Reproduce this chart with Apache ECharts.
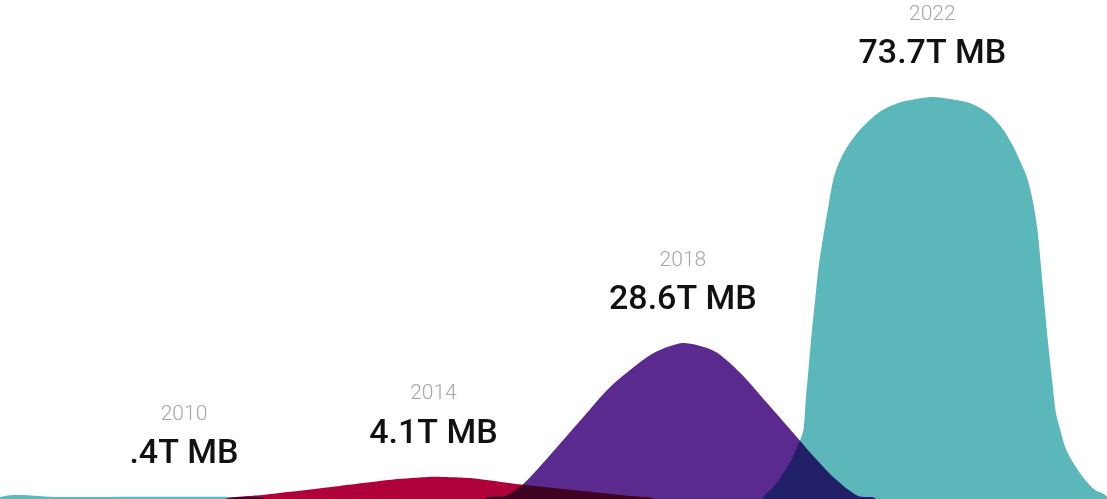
<!DOCTYPE html>
<html lang="en">
<head>
    <meta charset="UTF-8">
    <title>Data growth</title>
    <script src="https://cdn.jsdelivr.net/npm/echarts@6/dist/echarts.min.js"></script>
    <style>
        html, body { margin: 0; padding: 0; background: #fff; }
    </style>
</head>
<body>
    <div id="main" style="width:1107px;height:499px"></div>
    <script>
        // peaks: year -> volume (trillion MB)
        var years = [2010, 2014, 2018, 2022];
        var volumes = [0.4, 4.1, 28.6, 73.7];
        var volumeLabels = ['.4T MB', '4.1T MB', '28.6T MB', '73.7T MB'];

        // outline of each hill: [year, T MB]
        var hill2010 = [[2007.05, 0.3], [2008, 0.35], [2010, 0.4], [2010.9, 0.35], [2011.3, 0]];
        var hill2014 = [[2010.66, 0], [2011.22, 0.7], [2012.5, 2.4], [2013.46, 3.7], [2014, 4.1],
            [2014.59, 3.85], [2015.44, 2.6], [2016.35, 1.5], [2017.15, 0.55], [2017.55, 0]];
        var hill2018 = [[2014.83, 0], [2015.15, 0.55], [2015.36, 2.0], [2015.55, 4.0], [2015.98, 9.5],
            [2016.4, 15.0], [2016.83, 20.5], [2017.36, 25.5], [2017.63, 27.3], [2018, 28.6],
            [2018.32, 27.9], [2018.55, 26.8], [2018.92, 23.1], [2019.35, 17.6], [2019.77, 12.1],
            [2020.12, 7.5], [2020.45, 3.6], [2020.8, 0.6], [2021.1, 0]];
        var hill2022 = [[2019.28, 0], [2019.48, 2.6], [2019.72, 6.8], [2019.83, 9.5], [2019.93, 12.5],
            [2019.97, 18.2], [2020.02, 24.6], [2020.07, 31.0], [2020.12, 36.5], [2020.18, 42.9],
            [2020.26, 48.8], [2020.33, 53.5], [2020.41, 58.5], [2020.5, 61.6], [2020.63, 64.5],
            [2020.84, 67.7], [2021.13, 70.8], [2021.45, 72.6], [2021.72, 73.3], [2022, 73.7],
            [2022.3, 73.3], [2022.6, 72.6], [2022.9, 70.7], [2023.12, 68.0], [2023.29, 64.8],
            [2023.42, 61.6], [2023.53, 58.5], [2023.63, 53.5], [2023.69, 48.8], [2023.74, 42.9],
            [2023.79, 36.5], [2023.85, 29.2], [2023.92, 21.8], [2023.98, 15.8], [2024.05, 12.7],
            [2024.13, 9.5], [2024.26, 6.6], [2024.45, 3.5], [2024.61, 1.65], [2024.8, 0.4]];

        var colors = ['#5bb7ba', '#b0003a', '#5b2a8e', '#5bb7ba'];

        function hillSeries(pts, color, smooth) {
            return {
                type: 'custom',
                coordinateSystem: 'cartesian2d',
                silent: true,
                data: [pts[0]],
                renderItem: function (params, api) {
                    var points = pts.map(function (p) { return api.coord(p); });
                    // close the shape below the baseline
                    points.unshift(api.coord([pts[0][0], -4]));
                    points.push(api.coord([pts[pts.length - 1][0], -4]));
                    return {
                        type: 'polygon',
                        shape: { points: points, smooth: smooth },
                        style: { fill: color }
                    };
                }
            };
        }

        var myChart = echarts.init(document.getElementById('main'));
        var option = {
            backgroundColor: '#fff',
            animation: false,
            grid: { left: 0, right: 0, top: 0, bottom: 0 },
            xAxis: { type: 'value', min: 2007.05, max: 2024.8, show: false },
            yAxis: { type: 'value', min: 0, max: 91.5, show: false },
            series: [
                hillSeries(hill2010, colors[0], 0.3),
                hillSeries(hill2014, colors[1], 0.15),
                hillSeries(hill2018, colors[2], 0.3),
                hillSeries(hill2022, colors[3], 0.3),
                {
                    type: 'scatter',
                    silent: true,
                    symbolSize: 1,
                    itemStyle: { opacity: 0 },
                    data: years.map(function (y, i) { return [y, volumes[i]]; }),
                    z: 10,
                    label: {
                        show: true,
                        position: 'top',
                        distance: 22,
                        opacity: 1,
                        formatter: function (p) {
                            return '{y|' + years[p.dataIndex] + '}\n{v|' + volumeLabels[p.dataIndex] + '}';
                        },
                        rich: {
                            y: { fontFamily: 'Roboto', fontWeight: 300, fontSize: 21, color: '#a6a6a6', lineHeight: 40, align: 'center' },
                            v: { fontFamily: 'Roboto', fontWeight: 500, fontSize: 34, color: '#111111', lineHeight: 40, align: 'center' }
                        }
                    }
                }
            ]
        };
        myChart.setOption(option);

        // overlapping hills darken each other (multiply)
        var zr = myChart.getZr();
        zr.storage.getDisplayList(true).forEach(function (el) {
            if (el.type === 'polygon') {
                el.style.blend = 'multiply';
                el.markRedraw();
            }
        });
        zr.refreshImmediately();
    </script>
</body>
</html>
